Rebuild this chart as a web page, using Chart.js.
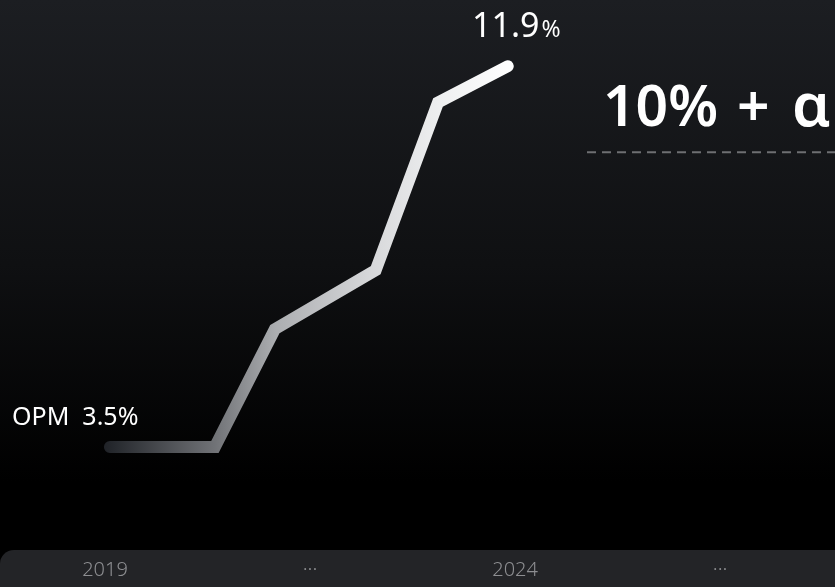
<!DOCTYPE html>
<html>
<head>
<meta charset="utf-8">
<script src="https://cdn.jsdelivr.net/npm/chart.js@4"></script>
<style>
  html, body { margin: 0; padding: 0; background: #000; }
  #wrap { width: 835px; height: 587px; position: relative; }
</style>
</head>
<body>
<div id="wrap"><canvas id="opm"></canvas></div>
<script>
// OPM trend (x in years, y in %)
const years = [2019.06, 2020.34, 2021.07, 2022.30, 2023.06, 2023.91];
const opmValues = [3.5, 3.5, 6.1, 7.4, 11.1, 11.9];
const tickValues = [2019, 2021.5, 2024, 2026.5];
const tickLabels = ["2019", "···", "2024", "···"];
const targetValue = 10;
const startLabel = "OPM  3.5%";
const endLabel = "11.9";
const targetParts = ["10%", "+", "α"];

const FONT = "'Noto Sans', 'DejaVu Sans', sans-serif";

// dark backdrop + bottom year bar
const backdrop = {
  id: "backdrop",
  beforeDraw(chart) {
    const { ctx, width, height } = chart;
    const g = ctx.createLinearGradient(0, 0, 0, height);
    g.addColorStop(0, "#1c1e22");
    g.addColorStop(0.45, "#0f1012");
    g.addColorStop(0.82, "#000000");
    g.addColorStop(1, "#000000");
    ctx.save();
    ctx.fillStyle = g;
    ctx.fillRect(0, 0, width, height);

    const x = chart.scales.x;
    ctx.fillStyle = "#232427";
    ctx.beginPath();
    ctx.roundRect(0, x.top, width + 20, x.bottom - x.top + 20, 14);
    ctx.fill();
    ctx.restore();
  },
};

// texts and dashed target line
const annotations = {
  id: "annotations",
  afterDatasetsDraw(chart) {
    const { ctx } = chart;
    const pts = chart.getDatasetMeta(0).data;
    const first = pts[0], last = pts[pts.length - 1];
    const yT = chart.scales.y.getPixelForValue(targetValue);
    ctx.save();

    ctx.strokeStyle = "#6e6f72";
    ctx.lineWidth = 2;
    ctx.setLineDash([9, 6]);
    ctx.beginPath();
    ctx.moveTo(587, yT);
    ctx.lineTo(chart.width, yT);
    ctx.stroke();
    ctx.setLineDash([]);

    ctx.fillStyle = "#ffffff";
    ctx.textBaseline = "alphabetic";
    ctx.textAlign = "left";
    ctx.font = "400 25px " + FONT;
    ctx.fillText(startLabel, 12, first.y - 22);

    ctx.font = "400 34px " + FONT;
    const w = ctx.measureText(endLabel).width;
    ctx.fillText(endLabel, 472, last.y - 29);
    ctx.font = "400 23px " + FONT;
    ctx.fillText("%", 472 + w + 2, last.y - 29);

    ctx.font = "600 57px " + FONT;
    ctx.fillText(targetParts[0], 603, yT - 26);
    ctx.fillText(targetParts[1], 737, yT - 26);
    ctx.font = "600 60px " + FONT;
    ctx.fillText(targetParts[2], 792, yT - 26);
    ctx.restore();
  },
};

const lineGradient = (context) => {
  const chart = context.chart;
  if (!chart.chartArea) return "#ffffff";
  const xs = chart.scales.x;
  const x0 = xs.getPixelForValue(years[0]) - 6;
  const x1 = xs.getPixelForValue(years[years.length - 1]) + 6;
  const g = chart.ctx.createLinearGradient(x0, 0, x1, 0);
  g.addColorStop(0, "#1f2227");
  g.addColorStop(0.27, "#707276");
  g.addColorStop(0.42, "#acaeb1");
  g.addColorStop(0.66, "#d8d9db");
  g.addColorStop(0.82, "#eeeff0");
  g.addColorStop(1, "#ffffff");
  return g;
};

new Chart(document.getElementById("opm"), {
  type: "line",
  data: {
    datasets: [
      {
        data: years.map((x, i) => ({ x, y: opmValues[i] })),
        borderColor: lineGradient,
        borderWidth: 12,
        borderCapStyle: "round",
        borderJoinStyle: "miter",
        pointRadius: 0,
        tension: 0,
        fill: false,
      },
    ],
  },
  options: {
    responsive: true,
    maintainAspectRatio: false,
    animation: false,
    layout: { padding: 0 },
    plugins: { legend: { display: false }, tooltip: { enabled: false } },
    scales: {
      x: {
        type: "linear",
        min: 2017.72,
        max: 2027.9,
        grid: { display: false, drawTicks: false },
        border: { display: false },
        afterFit: (s) => { s.height = 37; },
        afterBuildTicks: (s) => { s.ticks = tickValues.map((v) => ({ value: v })); },
        ticks: {
          color: "#8d8e91",
          font: { family: FONT, size: 20, weight: "300" },
          padding: 8,
          maxRotation: 0,
          autoSkip: false,
          callback: (v) => tickLabels[tickValues.indexOf(v)],
        },
      },
      y: {
        display: false,
        min: 1.23,
        max: 13.36,
      },
    },
  },
  plugins: [backdrop, annotations],
});
</script>
</body>
</html>
